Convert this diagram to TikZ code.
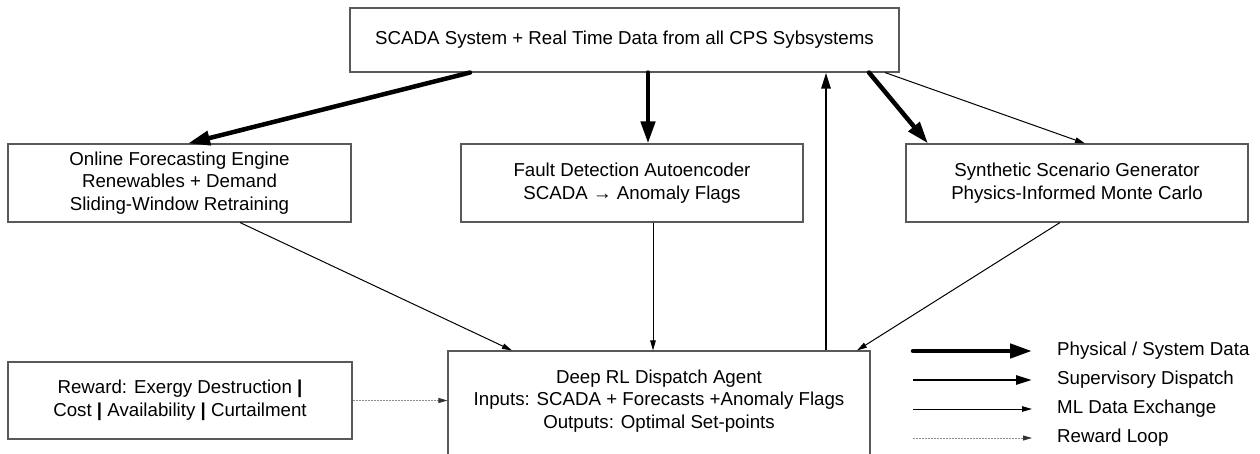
\documentclass[tikz,border=0pt]{standalone}
\usepackage{fontspec}
\setmainfont{Liberation Sans}
\usetikzlibrary{arrows.meta}
\newcommand\diagfont{\fontsize{18.7}{22.5}\selectfont}
\begin{document}
\begin{tikzpicture}[x=1pt,y=-1pt,
  box/.style={draw=black!65, line width=1.1pt, align=center, inner sep=0pt, font=\diagfont},
  legtext/.style={anchor=west, inner sep=0pt, font=\diagfont},
  phys/.style={line width=4.5pt, line cap=round, -{Triangle[length=22pt,width=14pt]}},
  sup/.style={line width=2.7pt, -{Triangle[length=16pt,width=9pt]}},
  mlx/.style={line width=1pt, -{Triangle[length=10pt,width=5.5pt]}},
  rewx/.style={line width=0.8pt, draw=black!45, dash pattern=on 2pt off 1pt, -{Triangle[length=9pt,width=5pt,color=black!80]}}]
\useasboundingbox (0,0) rectangle (1260,454);
\clip (0,0) rectangle (1260,454);

\node[box, minimum width=549pt, minimum height=64pt] (top) at (624.5,40) {SCADA System + Real Time Data from all CPS Sybsystems};
\node[box, minimum width=343pt, minimum height=78pt] (fore) at (179.5,183) {Online Forecasting Engine\\Renewables + Demand\\Sliding-Window Retraining};
\node[box, minimum width=342pt, minimum height=78pt] (fault) at (632,183) {Fault Detection Autoencoder\\SCADA → Anomaly Flags};
\node[box, minimum width=342pt, minimum height=78pt] (synth) at (1077,183) {Synthetic Scenario Generator\\Physics-Informed Monte Carlo};
\node[box, minimum width=344pt, minimum height=77pt] (rew) at (180,400.5) {Reward: Exergy Destruction {\bfseries|}\\Cost {\bfseries|} Availability {\bfseries|} Curtailment};
\node[box, minimum width=422pt, minimum height=119pt,
  label={[align=center, font=\diagfont, yshift=9.5pt]center:Deep RL Dispatch Agent\\Inputs: SCADA + Forecasts +Anomaly Flags\\Outputs: Optimal Set-points}] (rl) at (659,410.5) {};

% connectors
\draw[phys] ([xshift=-154.5pt]top.south) -- ([xshift=8.5pt]fore.north);
\draw[phys] ([xshift=23.5pt]top.south) -- ([xshift=16pt]fault.north);
\draw[phys] ([xshift=244.5pt]top.south) -- ([xshift=-149pt]synth.north);
\draw[mlx] ([xshift=260.5pt]top.south) -- ([xshift=8pt]synth.north);
\draw[sup] ([xshift=167pt]rl.north) -- ([xshift=201.5pt]top.south);
\draw[mlx] ([xshift=60.5pt]fore.south) -- ([xshift=-147pt]rl.north);
\draw[mlx] ([xshift=21pt]fault.south) -- ([xshift=-6pt]rl.north);
\draw[mlx] ([xshift=-17pt]synth.south) -- ([xshift=198pt]rl.north);
\draw[rewx] (rew.east) -- (rew.east -| rl.west);

% legend
\coordinate (a1) at (913,351); \coordinate (b1) at (1032,351);
\coordinate (a2) at (913,380); \coordinate (b2) at (1032,380);
\coordinate (a3) at (913,409); \coordinate (b3) at (1032,409);
\coordinate (a4) at (913,438); \coordinate (b4) at (1032,438);
\draw[phys] (a1) -- (b1);
\draw[sup] (a2) -- (b2);
\draw[mlx] (a3) -- (b3);
\draw[rewx] (a4) -- (b4);
\node[legtext] (t1) at (1057,351) {Physical / System Data};
\node[legtext] (t2) at (1057,380) {Supervisory Dispatch};
\node[legtext] (t3) at (1057,409) {ML Data Exchange};
\node[legtext] (t4) at (1057,438) {Reward Loop};
\end{tikzpicture}
\end{document}
